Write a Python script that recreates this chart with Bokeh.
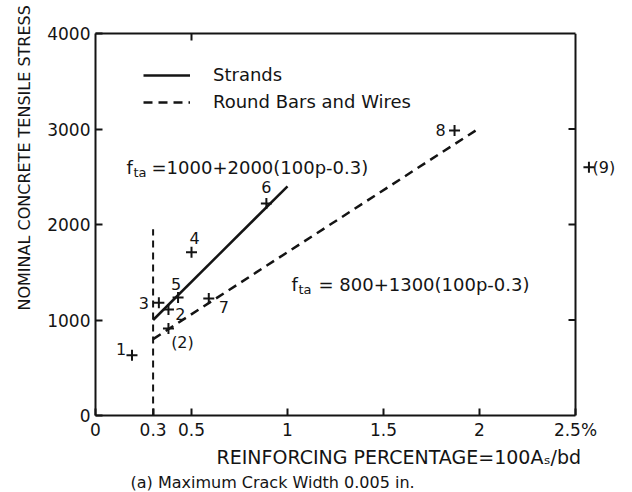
import math
from bokeh.plotting import figure
from bokeh.models import (Range1d, FixedTicker, LinearAxis, Span, Label, LabelSet,
                          ColumnDataSource, Legend, LegendItem, Title)
from bokeh.embed import file_html
from bokeh.resources import INLINE
from bokeh.core.properties import value

# ---------------- data ----------------
x_ticks = [0, 0.3, 0.5, 1, 1.5, 2, 2.5]
x_tick_labels = ["0", "0.3", "0.5", "1", "1.5", "2", "2.5%"]
y_ticks = [0, 1000, 2000, 3000, 4000]
y_tick_labels = ["0", "1000", "2000", "3000", "4000"]
right_ticks = [1000, 2000, 3000]
top_ticks = [0.5]

point_names = ["1", "2", "3", "4", "5", "6", "(2)", "7", "8", "(9)"]
point_pct = [0.19, 0.38, 0.33, 0.50, 0.43, 0.89, 0.38, 0.59, 1.87, 2.57]
point_stress = [630, 1110, 1180, 1710, 1235, 2220, 910, 1225, 2985, 2600]

strands_x = [0.3, 1.0]
strands_y = [1000, 2400]
bars_x = [0.3, 2.0]
bars_y = [800, 3010]
limit_x = [0.3, 0.3]
limit_y = [0, 1950]

# label offsets (screen px) for the point labels
label_dx = [-11, 12, -15, 3, -2, 0, 14, 15, -14, 15]
label_dy = [6, -5, 0, 14, 14, 16, -14, -8, 0, 0]

# ---------------- layout ----------------
FONT = "DejaVu Sans"
INK = "#141414"
LEFT, BOTTOM = 95, 415          # frame left / bottom in canvas px
FW, FH = 632 - LEFT, 415 - 33
PX_PER_UNIT = 192.0

p = figure(frame_width=FW, frame_height=FH,
           x_range=Range1d(0, FW / PX_PER_UNIT), y_range=Range1d(0, 4000),
           output_backend="svg", toolbar_location=None,
           min_border_left=LEFT, min_border_right=0, min_border_top=33,
           min_border_bottom=492 - BOTTOM)
p.outline_line_color = None
p.grid.visible = False
p.background_fill_color = "white"
p.border_fill_color = "white"

def style_axis(ax):
    ax.axis_line_width = 2
    ax.axis_line_color = INK
    ax.major_tick_in = 7
    ax.major_tick_out = 0
    ax.major_tick_line_width = 2
    ax.major_tick_line_color = INK
    ax.minor_tick_line_color = None
    ax.major_label_text_font = FONT
    ax.major_label_text_font_size = "17px"
    ax.major_label_text_color = INK

xa = p.xaxis[0]
xa.ticker = FixedTicker(ticks=x_ticks)
xa.major_label_overrides = {t: l for t, l in zip(x_ticks, x_tick_labels)}
xa.bounds = (0, 2.5)
style_axis(xa)
xa.major_label_standoff = 4

ya = p.yaxis[0]
ya.ticker = FixedTicker(ticks=y_ticks)
ya.major_label_overrides = {t: l for t, l in zip(y_ticks, y_tick_labels)}
style_axis(ya)
ya.major_label_standoff = 5

top = LinearAxis(ticker=FixedTicker(ticks=top_ticks), bounds=(0, 2.5),
                 major_label_overrides={t: "" for t in top_ticks})
style_axis(top)
p.add_layout(top, "above")

p.add_layout(Span(location=2.5, dimension="height", line_color=INK, line_width=2))
tick_len = 7 / PX_PER_UNIT
p.segment(x0=[2.5] * len(right_ticks), x1=[2.5 - tick_len] * len(right_ticks),
          y0=right_ticks, y1=right_ticks, line_color=INK, line_width=2)

# ---------------- lines ----------------
r_str = p.line(strands_x, strands_y, line_color=INK, line_width=2.5)
r_bar = p.line(bars_x, bars_y, line_color=INK, line_width=2.5, line_dash="9 6")
p.line(limit_x, limit_y, line_color=INK, line_width=2, line_dash="7 5")

legend = Legend(items=[LegendItem(label="Strands", renderers=[r_str]),
                       LegendItem(label="Round Bars and Wires", renderers=[r_bar])],
                location=(48, 303), border_line_color=None, background_fill_alpha=0,
                padding=0, margin=0, spacing=6, glyph_width=47, glyph_height=20,
                label_height=20, label_standoff=23, label_text_font=FONT,
                label_text_font_size="18px", label_text_color=INK)
p.add_layout(legend, "center")

# ---------------- points ----------------
src = ColumnDataSource(dict(x=point_pct, y=point_stress, name=point_names,
                            dx=label_dx, dy=label_dy))
p.scatter("x", "y", source=src, marker="cross", size=11, line_width=2, line_color=INK)
p.add_layout(LabelSet(x="x", y="y", text="name", source=src, x_offset="dx", y_offset="dy",
                      text_align="center", text_baseline="middle", text_font=value(FONT),
                      text_font_size="16px", text_color=INK))

# ---------------- texts in the frame ----------------
def sx(px):
    return px - LEFT

def sy(py):
    return BOTTOM - py

def txt(s, px, py, size="18px", align="left", baseline="alphabetic"):
    p.add_layout(Label(x=sx(px), y=sy(py), x_units="screen", y_units="screen", text=s,
                       text_font=FONT, text_font_size=size, text_color=INK,
                       text_align=align, text_baseline=baseline))

txt("f", 126, 167)
txt("ta", 133, 172, size="13px")
txt("=1000+2000(100p-0.3)", 151, 167)
txt("f", 291, 284)
txt("ta", 298, 289, size="13px")
txt("= 800+1300(100p-0.3)", 318, 284)

# ---------------- titles outside the frame ----------------
def title(s, side, size, align, offset, standoff):
    t = Title(text=s, align=align, offset=offset, standoff=standoff,
              text_font=FONT, text_font_size=size, text_font_style="normal",
              text_color=INK)
    p.add_layout(t, side)

title("NOMINAL CONCRETE TENSILE STRESS", "left", "16px", "left", 105, 22)
title("REINFORCING PERCENTAGE=100A\u209b/bd", "below", "19px", "left", 121, 3)
title("(a) Maximum Crack Width 0.005 in.", "below", "16px", "left", 35, 3)

open("out.html", "w").write(file_html(p, INLINE))
